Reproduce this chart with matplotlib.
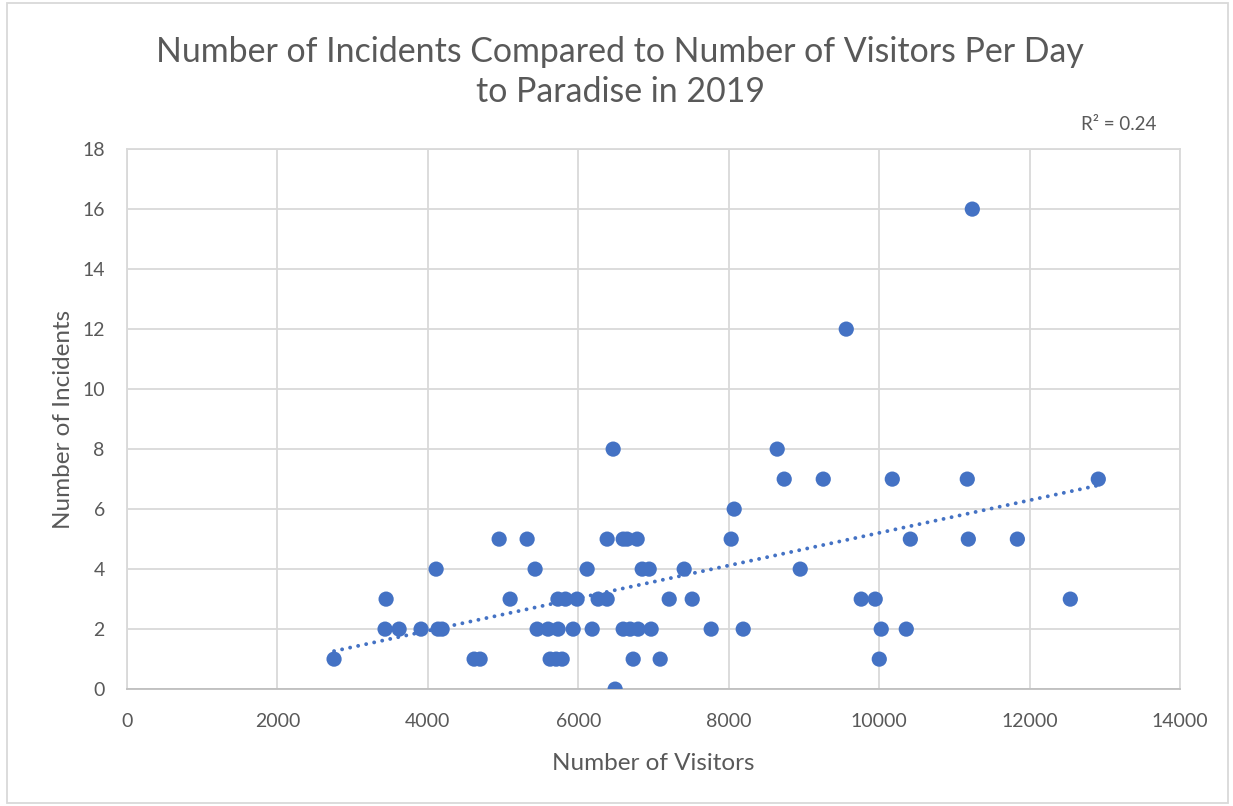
import numpy as np
import matplotlib.pyplot as plt
from matplotlib.patches import Rectangle

# Daily visitors and incidents, grouped by incident count
visitors = [
    6490,
    2753, 4615, 4695, 5626, 5706, 5786, 6730, 7089, 10002,
    3431, 3618, 3910, 4136, 4190, 5453, 5599, 5732, 5932, 6185, 6597, 6690,
    6796, 6969, 7767, 8193, 10028, 10361,
    3445, 5094, 5730, 5830, 5984, 6264, 6384, 7209, 7515, 9762, 9948, 12542,
    4110, 5426, 6118, 6850, 6943, 7408, 8951,
    4948, 5320, 6384, 6597, 6650, 6783, 8033, 10415, 11186, 11838,
    8073,
    8738, 9257, 10175, 11172, 12914,
    6464, 8645,
    9563,
    11239,
]
incidents = [
    0,
    1, 1, 1, 1, 1, 1, 1, 1, 1,
    2, 2, 2, 2, 2, 2, 2, 2, 2, 2, 2, 2,
    2, 2, 2, 2, 2, 2,
    3, 3, 3, 3, 3, 3, 3, 3, 3, 3, 3, 3,
    4, 4, 4, 4, 4, 4, 4,
    5, 5, 5, 5, 5, 5, 5, 5, 5, 5,
    6,
    7, 7, 7, 7, 7,
    8, 8,
    12,
    16,
]
r2_label = "R² = 0.24"

BLUE = "#4472C4"
TEXT = "#595959"
GRID = "#d9d9d9"

plt.rcParams["font.family"] = ["Lato", "DejaVu Sans"]

fig = plt.figure(figsize=(12.33, 8.06), dpi=100)
ax = fig.add_axes([0.103, 0.145, 0.854, 0.670])

x = np.array(visitors, dtype=float)
y = np.array(incidents, dtype=float)

# linear trendline over the data range
slope, intercept = np.polyfit(x, y, 1)
xs = np.array([x.min(), x.max()])
ax.plot(xs, slope * xs + intercept, color=BLUE, linewidth=2.8,
        linestyle=(0, (0.01, 2.1)), dash_capstyle="round", zorder=2)

ax.scatter(x, y, s=120, color=BLUE, edgecolors="none", zorder=3)

ax.set_xlim(0, 14000)
ax.set_ylim(0, 18)
ax.set_xticks(range(0, 14001, 2000))
ax.set_yticks(range(0, 19, 2))
ax.grid(True, color=GRID, linewidth=1.3)
ax.set_axisbelow(True)
for side in ["left", "right", "top"]:
    ax.spines[side].set_color(GRID)
    ax.spines[side].set_linewidth(1.3)
ax.spines["bottom"].set_color("#bfbfbf")
ax.spines["bottom"].set_linewidth(1.3)
ax.tick_params(length=0, labelsize=14, colors=TEXT)
ax.tick_params(axis="x", pad=17)
ax.tick_params(axis="y", pad=16)

ax.set_xlabel("Number of Visitors", fontsize=17.5, color=TEXT, labelpad=17)
ax.set_ylabel("Number of Incidents", fontsize=17.5, color=TEXT, labelpad=6)

fig.text(0.503, 0.911, "Number of Incidents Compared to Number of Visitors Per Day\nto Paradise in 2019",
         ha="center", va="center", fontsize=24.4, color=TEXT, linespacing=1.3)
fig.text(0.907, 0.845, r2_label, ha="center", va="center", fontsize=13.5, color=TEXT)

# chart frame
fig.patches.append(Rectangle((0.006, 0.004), 0.99, 0.992, transform=fig.transFigure,
                             fill=False, edgecolor=GRID, linewidth=1.3))

fig.savefig("out.png", dpi=100)
